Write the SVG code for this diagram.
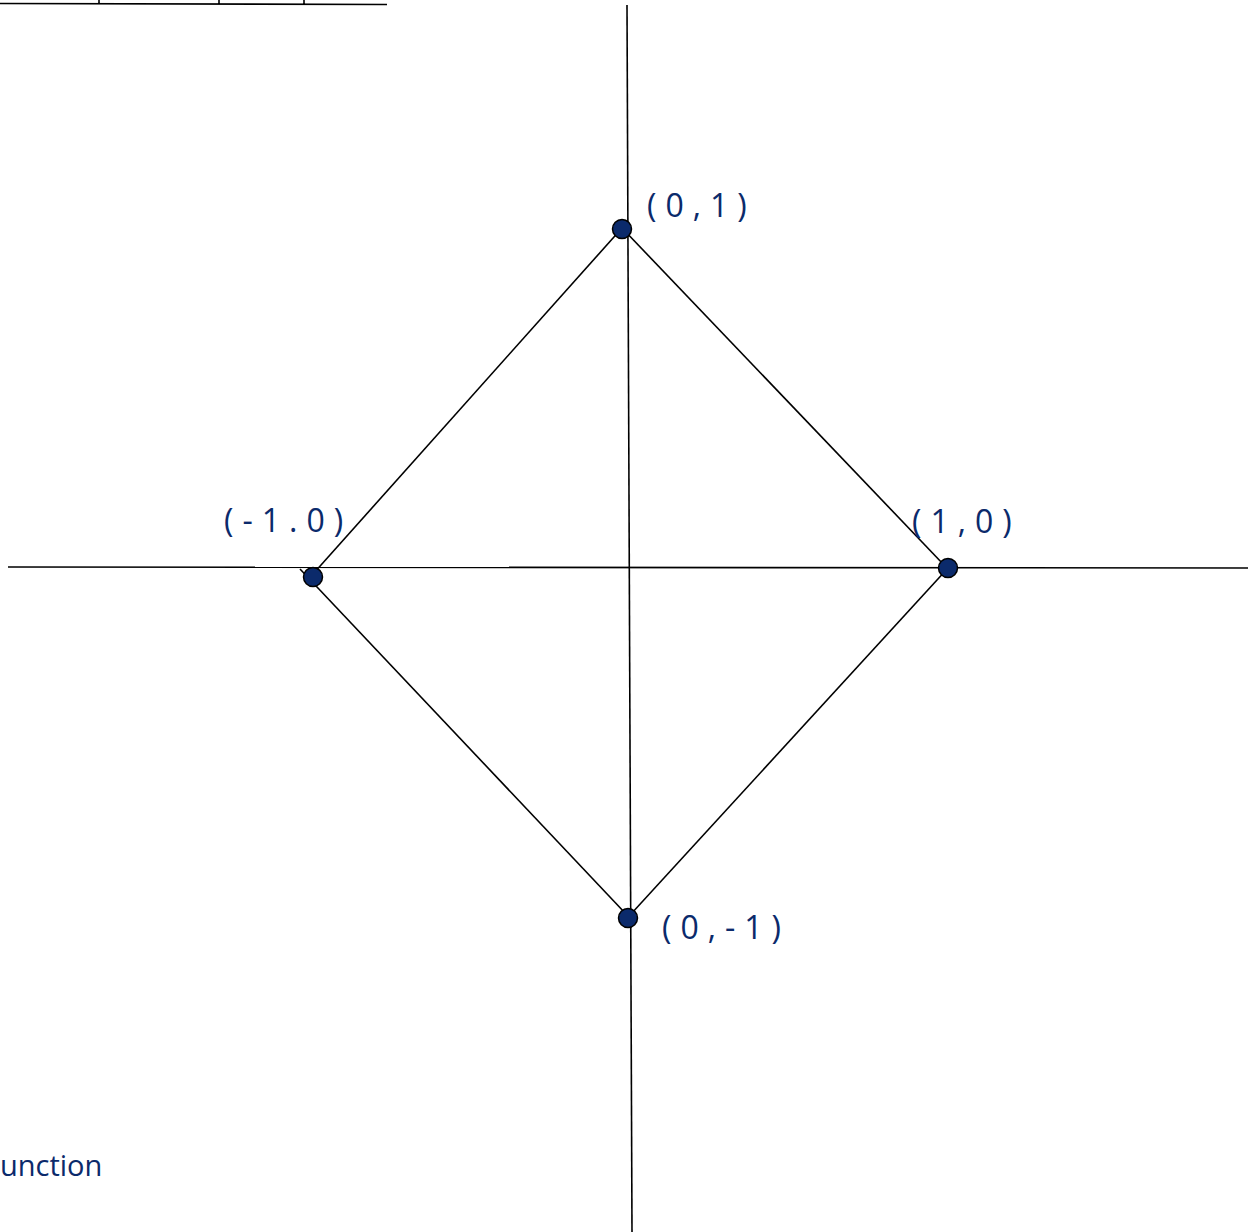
<svg xmlns="http://www.w3.org/2000/svg" width="1248" height="1232" viewBox="0 0 1248 1232">
<style>
.ln{stroke:#000;stroke-width:1.6;fill:none}
.pt{fill:#0b2a6b;stroke:#000;stroke-width:1.5}
.lb{font-family:"Open Sans","Liberation Sans",sans-serif;font-size:32px;fill:#0b2a6b;letter-spacing:9px}
.cap{font-family:"Open Sans","Liberation Sans",sans-serif;font-size:29px;fill:#0b2a6b}
</style>
<rect width="1248" height="1232" fill="#fff"/>
<g id="connectors">
<path class="ln" d="M0 3.5 L387 4.5 M99 0 V4 M219 0 V4 M304 0 V4"/>
<line class="ln" x1="627" y1="5" x2="632" y2="1232"/>
<line class="ln" x1="8" y1="567" x2="1248" y2="568"/>
<line class="ln" x1="313" y1="574" x2="622" y2="228"/>
<line class="ln" x1="622" y1="228" x2="944" y2="565"/>
<line class="ln" x1="300" y1="569" x2="626" y2="914"/>
<line class="ln" x1="631" y1="914" x2="948" y2="568"/>
</g>
<g id="p-top"><circle class="pt" cx="622" cy="229" r="9.5"/><text class="lb" x="647" y="217">(0,1)</text></g>
<g id="p-right"><circle class="pt" cx="948" cy="568" r="9.5"/><text class="lb" x="912" y="533">(1,0)</text></g>
<g id="p-left"><circle class="pt" cx="313" cy="577" r="9.5"/><text class="lb" x="224" y="532">(-1.0)</text></g>
<g id="p-bottom"><circle class="pt" cx="628" cy="918" r="9.5"/><text class="lb" x="662" y="939">(0,-1)</text></g>
<g id="caption"><text class="cap" x="0" y="1176">unction</text></g>
</svg>
